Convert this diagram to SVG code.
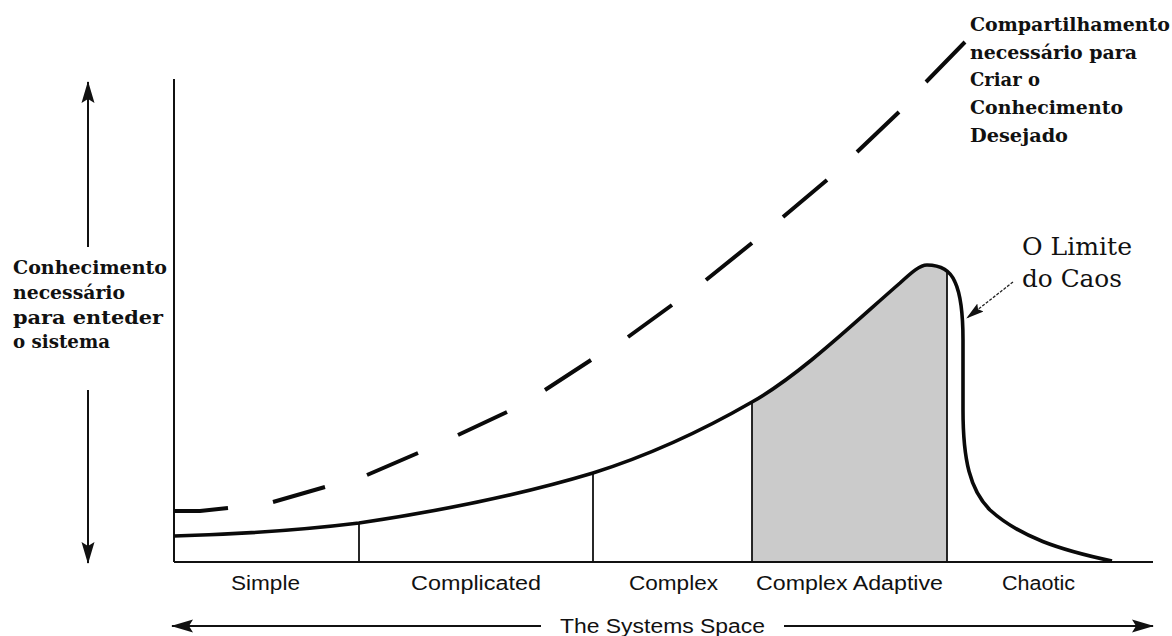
<svg xmlns="http://www.w3.org/2000/svg" width="1172" height="636" viewBox="0 0 1172 636">
  <style>
    .axis { stroke: #111; stroke-width: 2; fill: none; }
    .divider { stroke: #111; stroke-width: 1.8; fill: none; }
    .curve { stroke: #0a0a0a; stroke-width: 3.6; fill: none; stroke-linejoin: round; }
    .dash { stroke: #0a0a0a; stroke-width: 4; fill: none; stroke-linecap: butt; }
    .arrow { stroke: #111; stroke-width: 2; fill: none; }
    .band { font-family: "Liberation Sans", Arial, sans-serif; font-size: 20px; fill: #111; }
    .note { font-family: "DejaVu Serif", "Liberation Serif", serif; font-size: 19px; font-weight: bold; fill: #111; }
    .edge { font-family: "DejaVu Serif", "Liberation Serif", serif; font-size: 24px; fill: #111; }
  </style>
  <defs>
    <marker id="head" viewBox="0 0 22 14" refX="21" refY="7" markerWidth="22" markerHeight="14" markerUnits="userSpaceOnUse" orient="auto">
      <path d="M0,0.5 L22,7 L0,13.5 L4,7 Z" fill="#111"/>
    </marker>
    <marker id="smallhead" viewBox="0 0 18 10" refX="17" refY="5" markerWidth="18" markerHeight="10" markerUnits="userSpaceOnUse" orient="auto">
      <path d="M0,0 L18,5 L0,10 L3,5 Z" fill="#111"/>
    </marker>
  </defs>

  <rect width="1172" height="636" fill="#ffffff"/>

  <!-- shaded complex-adaptive zone under the curve -->
  <g id="adaptive-zone">
    <path d="M752,562 L752,402 C800,375 855,322 900,283 C912,272 920,265 927,265 C937,265 944,267 947,271 L947,562 Z" fill="#cbcbcb"/>
  </g>

  <!-- chart axes -->
  <g id="axes">
    <line class="axis" x1="174" y1="79" x2="174" y2="562"/>
    <line class="axis" x1="174" y1="562" x2="1153" y2="562"/>
  </g>

  <!-- zone boundaries -->
  <g id="zone-dividers">
    <line class="divider" x1="359" y1="523" x2="359" y2="562"/>
    <line class="divider" x1="593" y1="473" x2="593" y2="562"/>
    <line class="divider" x1="752" y1="402" x2="752" y2="562"/>
    <line class="divider" x1="947" y1="271" x2="947" y2="562"/>
  </g>

  <!-- knowledge needed curve -->
  <g id="knowledge-curve">
    <path class="curve" d="M174,536 C250,534 310,529 359,523 C440,511 520,495 593,473 C650,455 700,432 752,402 C800,375 855,322 900,283 C912,272 920,265 927,265 C940,265 950,270 955,282 C961,295 963,315 963,340 L963,410 C963,460 970,490 990,510 C1020,537 1060,550 1112,561"/>
  </g>

  <!-- sharing needed curve (dashed) -->
  <g id="sharing-curve">
    <path class="dash" d="M174,511 L200,511 L228,508 M273,502 L325,487 M367,475 L418,453 M458,435 L507,412 M545,390 L591,360 M628,337 L672,305 M706,280 L752,243 M783,217 L827,180 M857,152 L899,112 M926,82 L965,42"/>
  </g>

  <!-- connectors: axis arrows and edge-of-chaos pointer -->
  <g id="connectors">
    <line class="arrow" x1="88" y1="247" x2="88" y2="82" marker-end="url(#head)"/>
    <line class="arrow" x1="88" y1="390" x2="88" y2="563" marker-end="url(#head)"/>
    <line class="arrow" x1="541" y1="626" x2="172" y2="626" marker-end="url(#head)"/>
    <line class="arrow" x1="784" y1="626" x2="1153" y2="626" marker-end="url(#head)"/>
    <line x1="1013" y1="282" x2="967" y2="318" stroke="#222" stroke-width="1.3" stroke-dasharray="3 1.5" marker-end="url(#smallhead)"/>
  </g>

  <!-- zone labels -->
  <g id="zone-labels">
    <text class="band" x="231" y="590" textLength="69" lengthAdjust="spacingAndGlyphs">Simple</text>
    <text class="band" x="411" y="590" textLength="130" lengthAdjust="spacingAndGlyphs">Complicated</text>
    <text class="band" x="629" y="590" textLength="89" lengthAdjust="spacingAndGlyphs">Complex</text>
    <text class="band" x="756" y="590" textLength="187" lengthAdjust="spacingAndGlyphs">Complex Adaptive</text>
    <text class="band" x="1002" y="590" textLength="73" lengthAdjust="spacingAndGlyphs">Chaotic</text>
  </g>

  <g id="x-axis-label">
    <text class="band" x="560" y="633" textLength="205" lengthAdjust="spacingAndGlyphs">The Systems Space</text>
  </g>

  <g id="y-axis-label">
    <text class="note" x="13" y="274" textLength="154" lengthAdjust="spacingAndGlyphs">Conhecimento</text>
    <text class="note" x="13" y="299" textLength="112" lengthAdjust="spacingAndGlyphs">necessário</text>
    <text class="note" x="13" y="324" textLength="150" lengthAdjust="spacingAndGlyphs">para enteder</text>
    <text class="note" x="13" y="348" textLength="97" lengthAdjust="spacingAndGlyphs">o sistema</text>
  </g>

  <g id="sharing-label">
    <text class="note" x="970" y="31" textLength="200" lengthAdjust="spacingAndGlyphs">Compartilhamento</text>
    <text class="note" x="970" y="59" textLength="167" lengthAdjust="spacingAndGlyphs">necessário para</text>
    <text class="note" x="970" y="86" textLength="70" lengthAdjust="spacingAndGlyphs">Criar o</text>
    <text class="note" x="970" y="114" textLength="153" lengthAdjust="spacingAndGlyphs">Conhecimento</text>
    <text class="note" x="970" y="142" textLength="98" lengthAdjust="spacingAndGlyphs">Desejado</text>
  </g>

  <g id="edge-of-chaos-label">
    <text class="edge" x="1022" y="255" textLength="110" lengthAdjust="spacingAndGlyphs">O Limite</text>
    <text class="edge" x="1022" y="287" textLength="100" lengthAdjust="spacingAndGlyphs">do Caos</text>
  </g>
</svg>
